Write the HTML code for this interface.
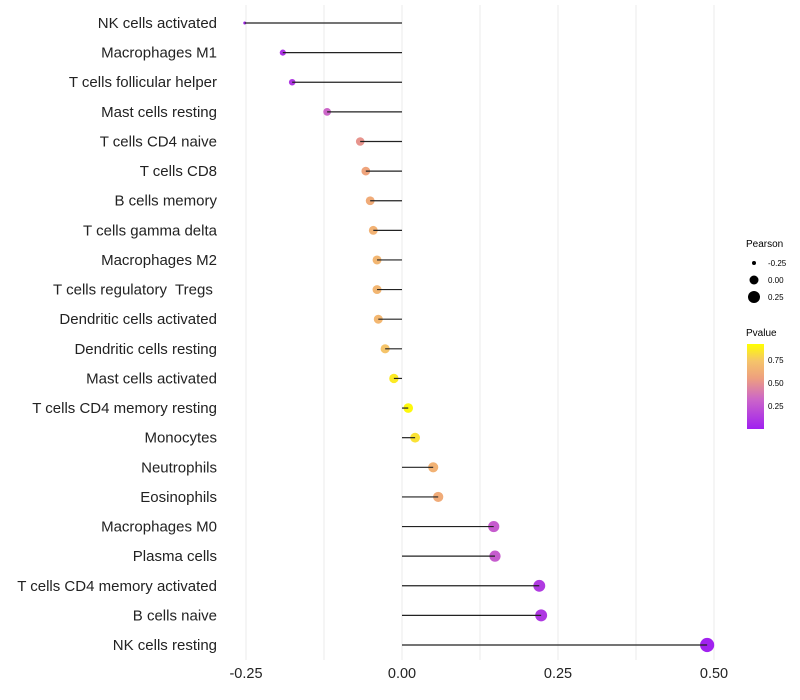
<!DOCTYPE html>
<html><head><meta charset="utf-8"><style>
body{margin:0;background:#fff;font-family:"Liberation Sans",sans-serif}
svg{display:block}
text{white-space:pre}
</style></head><body>
<svg id="chart" width="800" height="700" xmlns="http://www.w3.org/2000/svg">
<defs><linearGradient id="pg" x1="0" y1="1" x2="0" y2="0">
<stop offset="0" stop-color="#A020F0"/><stop offset="0.35" stop-color="#CC66C8"/><stop offset="0.6" stop-color="#EEA07E"/><stop offset="0.8" stop-color="#F5C46A"/><stop offset="1" stop-color="#FFFF00"/></linearGradient></defs>
<g id="grid"></g><g id="marks"></g><g id="labels"></g>
<g font-size="10">
<text x="746" y="247" fill="#000">Pearson</text>
<circle cx="754" cy="263" r="2" fill="#000"/><text x="768" y="266" font-size="8">-0.25</text>
<circle cx="754" cy="280" r="4.5" fill="#000"/><text x="768" y="283" font-size="8">0.00</text>
<circle cx="754" cy="297" r="6" fill="#000"/><text x="768" y="300" font-size="8">0.25</text>
<text x="746" y="336" fill="#000">Pvalue</text>
<rect x="747" y="344" width="17" height="85" fill="url(#pg)"/>
<text x="768" y="363" font-size="8">0.75</text>
<text x="768" y="386" font-size="8">0.50</text>
<text x="768" y="409" font-size="8">0.25</text>
</g>
</svg>
<script>
const categories=["NK cells activated","Macrophages M1","T cells follicular helper","Mast cells resting","T cells CD4 naive","T cells CD8","B cells memory","T cells gamma delta","Macrophages M2","T cells regulatory  Tregs ","Dendritic cells activated","Dendritic cells resting","Mast cells activated","T cells CD4 memory resting","Monocytes","Neutrophils","Eosinophils","Macrophages M0","Plasma cells","T cells CD4 memory activated","B cells naive","NK cells resting"];
const pearson=[-0.252,-0.191,-0.176,-0.12,-0.067,-0.058,-0.051,-0.046,-0.040,-0.040,-0.038,-0.027,-0.013,0.010,0.021,0.050,0.058,0.147,0.149,0.220,0.223,0.489];
const pvalues=[0.03,0.1,0.12,0.35,0.55,0.62,0.66,0.7,0.72,0.72,0.73,0.8,0.93,0.98,0.9,0.7,0.66,0.3,0.3,0.13,0.12,0.01];
const xticks=[-0.25,0,0.25,0.5];
const NS="http://www.w3.org/2000/svg";
const x=v=>402+v*624;
const y=i=>23+i*29.62;
const r=v=>1.5+6.5*Math.sqrt(Math.max(0,v+0.25));
const stops=[[0,[160,32,240]],[0.35,[204,102,200]],[0.6,[238,160,126]],[0.8,[245,196,106]],[1,[255,255,0]]];
function col(p){for(let k=1;k<stops.length;k++){if(p<=stops[k][0]){const a=stops[k-1],b=stops[k],t=(p-a[0])/(b[0]-a[0]);return "rgb("+a[1].map((c,j)=>Math.round(c+(b[1][j]-c)*t)).join(",")+")";}}return "rgb(255,255,0)";}
function mk(t,a,p){const e=document.createElementNS(NS,t);for(const k in a)e.setAttribute(k,a[k]);p.appendChild(e);return e;}
const grid=document.getElementById('grid'),marks=document.getElementById('marks'),labels=document.getElementById('labels');
[-0.25,-0.125,0,0.125,0.25,0.375,0.5].forEach(v=>{const l=mk('line',{x1:x(v),x2:x(v),y1:5,y2:660,stroke:'#ebebeb','stroke-width':1},grid);

});
xticks.forEach(v=>{const t=mk('text',{x:x(v),y:678,'text-anchor':'middle','font-size':14.5,fill:'#222'},labels);t.textContent=v.toFixed(2);

});
categories.forEach((c,i)=>{
const t=mk('text',{x:217,y:y(i)+5,'text-anchor':'end','font-size':15,fill:'#222'},labels);t.textContent=c;


const pt=mk('circle',{cx:x(pearson[i]),cy:y(i),r:r(pearson[i]),fill:col(pvalues[i])},marks);


const ln=mk('line',{x1:x(0),x2:x(pearson[i]),y1:y(i),y2:y(i),stroke:'#222','stroke-width':1.2},marks);


});
</script>
</body></html>
